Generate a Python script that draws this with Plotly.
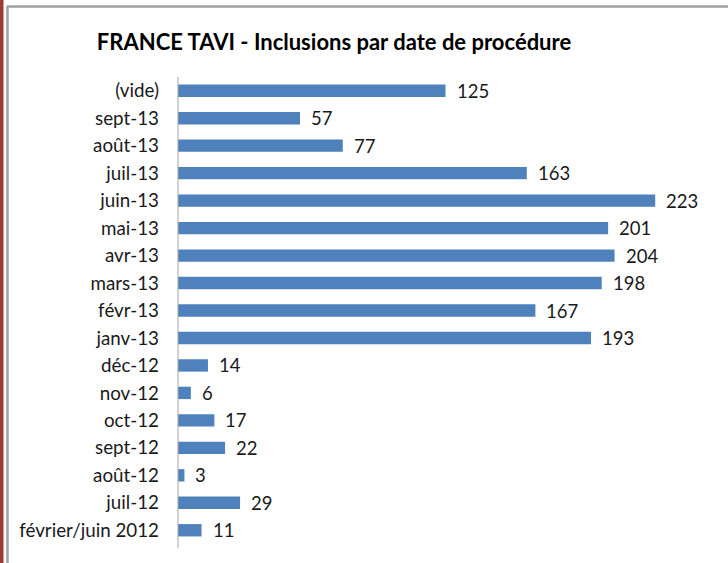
import plotly.graph_objects as go

categories = ["(vide)", "sept-13", "août-13", "juil-13", "juin-13", "mai-13", "avr-13",
              "mars-13", "févr-13", "janv-13", "déc-12", "nov-12", "oct-12", "sept-12",
              "août-12", "juil-12", "février/juin 2012"]
values = [125, 57, 77, 163, 223, 201, 204, 198, 167, 193, 14, 6, 17, 22, 3, 29, 11]
title_text = "FRANCE TAVI - Inclusions par date de procédure"

W, H = 728, 563
L, R, T, B = 178, 15, 77, 19
pw, ph = W - L - R, H - T - B

def px(x):
    return (x - L) / pw

def py(y):
    return (H - B - y) / ph

FONT = "Lato"

fig = go.Figure(go.Bar(
    x=values, y=categories, orientation="h",
    marker=dict(color="#4F81BD", line=dict(width=0)),
    width=0.45, hoverinfo="skip",
))

for c, v in zip(categories, values):
    fig.add_annotation(x=v, y=c, text=str(v), showarrow=False, xanchor="left",
                       xshift=9, font=dict(family=FONT, size=18.5, color="#1a1a1a"))

fig.update_layout(
    width=W, height=H,
    margin=dict(l=L, r=R, t=T, b=B, autoexpand=False),
    plot_bgcolor="white", paper_bgcolor="white",
    showlegend=False,
    title=dict(text="<b>" + title_text + "</b>", x=334 / W, xanchor="center",
               xref="container",
               y=1 - 42 / H, yanchor="middle", yref="container",
               font=dict(family=FONT, size=22, color="#000000")),
    xaxis=dict(range=[0, 250], visible=False, showgrid=False, zeroline=False),
    yaxis=dict(autorange="reversed", showgrid=False, zeroline=False, automargin=False,
               showline=False, ticks="", ticklabelstandoff=18,
               tickfont=dict(family=FONT, size=18.8, color="#1a1a1a")),
    shapes=[
        dict(type="rect", xref="paper", yref="paper", x0=px(0), x1=px(3.5),
             y0=py(0), y1=py(H), fillcolor="#9E3A3A", line=dict(width=0), layer="above"),
        dict(type="line", xref="paper", yref="paper", x0=px(7), x1=px(W),
             y0=py(6.5), y1=py(6.5), line=dict(color="#A0A0A0", width=2.5)),
        dict(type="line", xref="paper", yref="paper", x0=px(7.5), x1=px(7.5),
             y0=py(6), y1=py(H), line=dict(color="#A0A0A0", width=2.5)),
        dict(type="line", xref="paper", yref="paper", x0=px(178), x1=px(178),
             y0=py(77), y1=py(548), line=dict(color="#A6A6A6", width=1)),
    ],
)

fig.write_html("out.html", config={"displayModeBar": False, "staticPlot": True},
               post_script="document.body.style.margin='0';document.body.style.overflow='hidden';")
